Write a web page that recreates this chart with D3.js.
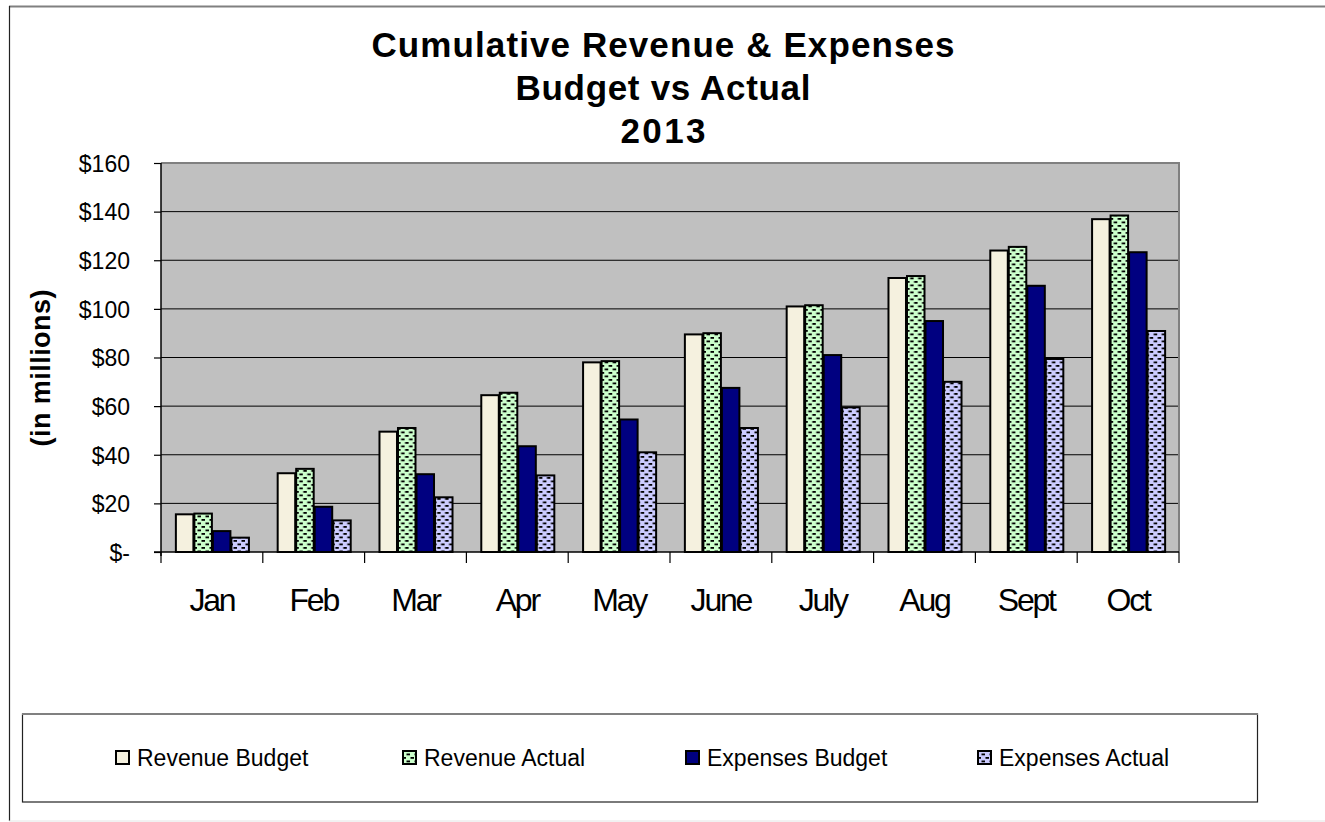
<!DOCTYPE html>
<html lang="en">
<head>
    <meta charset="UTF-8">
    <title>Cumulative Revenue &amp; Expenses</title>
    <script src="https://d3js.org/d3.v7.min.js"></script>
    <style>
        body { margin: 0; background: #fff; }
        text { font-family: "Liberation Sans", Arial, sans-serif; fill: #000; }
    </style>
</head>
<body>
<svg width="1325" height="822"></svg>
<script type="text/javascript">

    // data
    var months = ["Jan", "Feb", "Mar", "Apr", "May", "June", "July", "Aug", "Sept", "Oct"];
    var seriesNames = ["Revenue Budget", "Revenue Actual", "Expenses Budget", "Expenses Actual"];
    var revenueBudget  = [15.5, 32.4, 49.5, 64.5, 78.0, 89.5, 101.0, 112.7, 124.0, 136.9];
    var revenueActual  = [15.8, 34.2, 51.0, 65.5, 78.5, 90.0, 101.5, 113.5, 125.5, 138.4];
    var expensesBudget = [8.6, 18.6, 32.0, 43.5, 54.5, 67.5, 81.0, 95.0, 109.5, 123.3];
    var expensesActual = [5.9, 13.0, 22.5, 31.5, 41.0, 51.0, 59.5, 70.0, 79.4, 90.9];
    var yTicks = [0, 20, 40, 60, 80, 100, 120, 140, 160];

    var values = [revenueBudget, revenueActual, expensesBudget, expensesActual];

    var width  = 1325;
    var height = 822;
    var svg = d3.select("svg")
        .attr("width", width)
        .attr("height", height);

    // fill patterns for the "actual" series (small black dashes)
    var defs = svg.append("defs");
    function dashPattern(id, bg) {
        var p = defs.append("pattern")
            .attr("id", id)
            .attr("patternUnits", "userSpaceOnUse")
            .attr("width", 8)
            .attr("height", 7);
        p.append("rect").attr("width", 8).attr("height", 7).attr("fill", bg);
        p.append("rect").attr("x", 0.5).attr("y", 1).attr("width", 3.5).attr("height", 1.8).attr("fill", "#000");
        p.append("rect").attr("x", 4.5).attr("y", 4.5).attr("width", 3.5).attr("height", 1.8).attr("fill", "#000");
    }
    dashPattern("dashGreen", "#CCFFCC");
    dashPattern("dashBlue", "#CCCCFF");

    var fills = ["#F5F1DF", "url(#dashGreen)", "#000080", "url(#dashBlue)"];

    // outer chart border
    svg.append("line").attr("x1", 9).attr("x2", width).attr("y1", 6.5).attr("y2", 6.5)
        .attr("stroke", "#808080").attr("stroke-width", 2);
    svg.append("line").attr("x1", 9.5).attr("x2", 9.5).attr("y1", 6).attr("y2", 821)
        .attr("stroke", "#222").attr("stroke-width", 1.2);
    svg.append("line").attr("x1", 9).attr("x2", width).attr("y1", 821).attr("y2", 821)
        .attr("stroke", "#e4e4e4").attr("stroke-width", 1);

    // title
    var titleLines = [
        {t: "Cumulative Revenue & Expenses", y: 57, len: 583},
        {t: "Budget vs Actual", y: 100, len: 295},
        {t: "2013", y: 143, len: 85}
    ];
    svg.selectAll(".title")
        .data(titleLines)
        .enter().append("text")
        .attr("class", "title")
        .attr("x", 663)
        .attr("y", function(d) { return d.y; })
        .attr("text-anchor", "middle")
        .attr("textLength", function(d) { return d.len; })
        .attr("lengthAdjust", "spacing")
        .style("font-size", "35px")
        .style("font-weight", "bold")
        .text(function(d) { return d.t; });

    // plot area
    var plotLeft = 161, plotRight = 1179, plotTop = 163, plotBottom = 552;

    var x0 = d3.scaleBand().domain(months).range([plotLeft, plotRight]).paddingInner(0).paddingOuter(0);
    var x1 = d3.scaleBand().domain(seriesNames).range([0, x0.bandwidth()]).paddingInner(0).paddingOuter(0.75);
    var y = d3.scaleLinear().domain([0, 160]).range([plotBottom, plotTop]);

    svg.append("rect")
        .attr("x", plotLeft).attr("y", plotTop)
        .attr("width", plotRight - plotLeft).attr("height", plotBottom - plotTop)
        .attr("fill", "#C0C0C0");

    // gridlines
    svg.selectAll(".grid")
        .data(yTicks.slice(1, -1))
        .enter().append("line")
        .attr("x1", plotLeft).attr("x2", plotRight)
        .attr("y1", function(d) { return y(d); })
        .attr("y2", function(d) { return y(d); })
        .attr("stroke", "#000").attr("stroke-width", 1);

    // plot border (top + right, grey)
    svg.append("path")
        .attr("d", "M" + plotLeft + "," + plotTop + "H" + plotRight + "V" + plotBottom)
        .attr("fill", "none").attr("stroke", "#808080").attr("stroke-width", 2);

    // bars
    var groups = svg.selectAll(".month")
        .data(months)
        .enter().append("g")
        .attr("transform", function(d) { return "translate(" + x0(d) + ",0)"; });

    groups.selectAll("rect")
        .data(function(m, i) {
            return seriesNames.map(function(s, j) { return {s: s, v: values[j][i], j: j}; });
        })
        .enter().append("rect")
        .attr("x", function(d) { return x1(d.s) + 1; })
        .attr("width", x1.bandwidth() - 1)
        .attr("y", function(d) { return y(d.v); })
        .attr("height", function(d) { return y(0) - y(d.v); })
        .attr("fill", function(d) { return fills[d.j]; })
        .attr("stroke", "#000")
        .attr("stroke-width", 2);

    // y axis
    var yAxis = d3.axisLeft(y)
        .tickValues(yTicks)
        .tickSize(7)
        .tickPadding(24)
        .tickFormat(function(d) { return d === 0 ? "$-" : "$" + d; });
    var gy = svg.append("g")
        .attr("transform", "translate(" + plotLeft + ",0)")
        .call(yAxis);
    gy.select(".domain").attr("d", "M0," + plotTop + "V" + (plotBottom + 4)).attr("stroke", "#000").attr("stroke-width", 1.5);
    gy.selectAll(".tick line").attr("stroke", "#000").attr("stroke-width", 1.2);
    gy.selectAll(".tick text")
        .style("font-family", "'Liberation Sans', Arial, sans-serif")
        .style("font-size", "23px")
        .attr("dy", "0.36em");

    // x axis
    var xAxis = d3.axisBottom(x0).tickSize(0).tickPadding(36);
    var gx = svg.append("g")
        .attr("transform", "translate(0," + plotBottom + ")")
        .call(xAxis);
    gx.select(".domain").attr("d", "M" + (plotLeft - 7) + ",0H" + plotRight).attr("stroke", "#000").attr("stroke-width", 1.5);
    gx.selectAll(".tick text")
        .style("font-family", "'Liberation Sans', Arial, sans-serif")
        .style("font-size", "32px")
        .style("letter-spacing", "-2.2px");

    // category boundary ticks
    var bounds = months.map(function(m) { return x0(m); }).concat([plotRight]);
    svg.selectAll(".xtick")
        .data(bounds)
        .enter().append("line")
        .attr("x1", function(d) { return d; })
        .attr("x2", function(d) { return d; })
        .attr("y1", plotBottom).attr("y2", plotBottom + 11)
        .attr("stroke", "#000").attr("stroke-width", 1.2);

    // y axis title
    svg.append("text")
        .attr("transform", "translate(50,368) rotate(-90)")
        .attr("text-anchor", "middle")
        .attr("textLength", 157)
        .attr("lengthAdjust", "spacing")
        .style("font-size", "27px")
        .style("font-weight", "bold")
        .text("(in millions)");

    // legend
    var legendX = [115, 402, 685, 977];
    svg.append("rect")
        .attr("x", 22.5).attr("y", 714)
        .attr("width", 1235).attr("height", 88)
        .attr("fill", "#fff").attr("stroke", "#222").attr("stroke-width", 1.2);
    svg.append("line").attr("x1", 22).attr("x2", 1258).attr("y1", 714).attr("y2", 714)
        .attr("stroke", "#808080").attr("stroke-width", 2);

    var items = svg.selectAll(".legend")
        .data(seriesNames)
        .enter().append("g")
        .attr("transform", function(d, i) { return "translate(" + legendX[i] + ",0)"; });
    items.append("rect")
        .attr("x", 1).attr("y", 751)
        .attr("width", 13).attr("height", 13)
        .attr("fill", function(d, i) { return fills[i]; })
        .attr("stroke", "#000").attr("stroke-width", 2);
    items.append("text")
        .attr("x", 22).attr("y", 766)
        .style("font-size", "23px")
        .text(function(d) { return d; });

</script>
</body>
</html>
